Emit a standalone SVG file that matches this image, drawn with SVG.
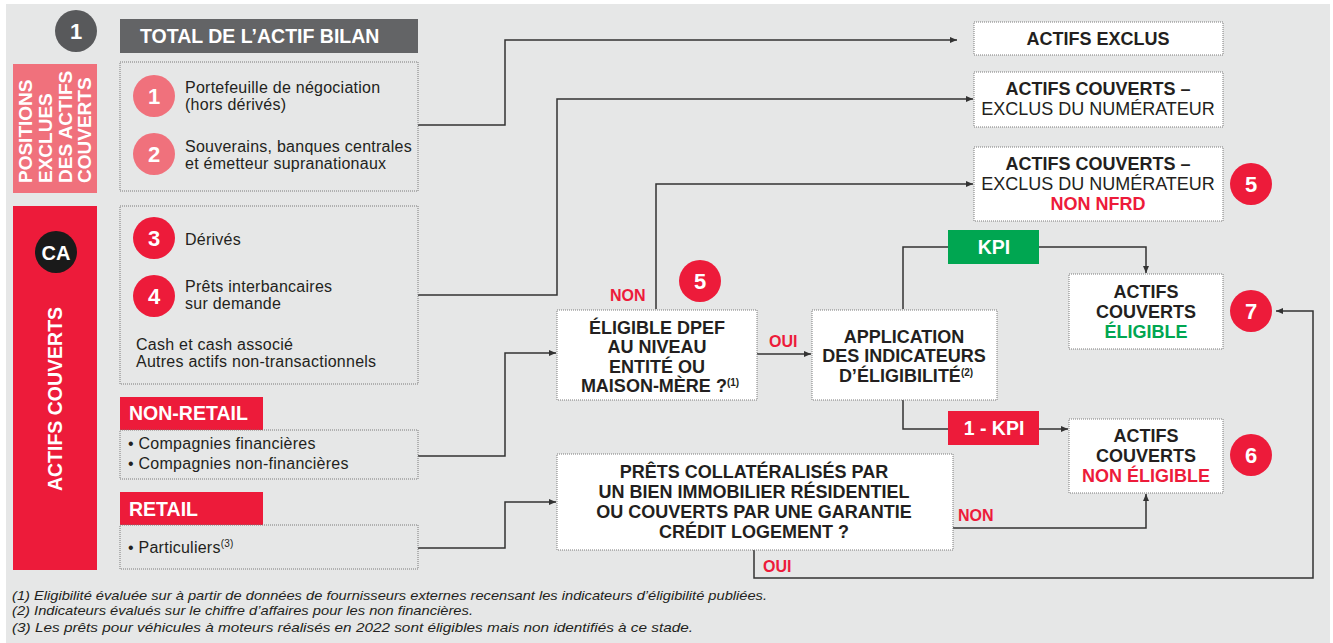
<svg xmlns="http://www.w3.org/2000/svg" width="1333" height="643" viewBox="0 0 1333 643">
<defs>
<style>
text{font-family:"Liberation Sans",Arial,sans-serif;fill:#231f20}
.b{font-weight:bold}
.w{fill:#ffffff}
.r{fill:#ed1b3a}
.g{fill:#00a651}
.bx{font-size:18px;font-weight:bold;text-anchor:middle}
.bxr{font-size:18px;text-anchor:middle}
.lt{font-size:16px;letter-spacing:0.25px}
.num{font-size:22px;font-weight:bold;fill:#ffffff;text-anchor:middle}
.lbl{font-size:16px;font-weight:bold;fill:#ed1b3a}
.hd{font-size:19.5px;font-weight:bold;fill:#ffffff}
.fn{font-size:13px;font-style:italic}
.dot{fill:none;stroke:#7a7a7a;stroke-width:1;stroke-dasharray:1 1}
.wdot{fill:#ffffff;stroke:#7a7a7a;stroke-width:1;stroke-dasharray:1 1}
.ln{fill:none;stroke:#333333;stroke-width:1.5}
.ca{fill:#ed1b3a}
.cp{fill:#f0717c}
</style>
<marker id="ah" markerWidth="8" markerHeight="8" refX="7" refY="4" orient="auto" markerUnits="userSpaceOnUse">
<path d="M0,1 L7,4 L0,7 Z" fill="#333333"/>
</marker>
</defs>
<rect x="0" y="0" width="1333" height="643" fill="#ffffff"/>
<rect x="6" y="4" width="1324" height="639" fill="#e6e7e7"/>

<g id="connectors">
<polyline class="ln" points="418,125 505,125 505,40 957,40" marker-end="url(#ah)"/>
<polyline class="ln" points="418,295 557,295 557,99 973,99" marker-end="url(#ah)"/>
<polyline class="ln" points="418,456 505,456 505,353 556,353" marker-end="url(#ah)"/>
<polyline class="ln" points="418,548 505,548 505,502 556,502" marker-end="url(#ah)"/>
<polyline class="ln" points="656,309 656,184 973,184" marker-end="url(#ah)"/>
<polyline class="ln" points="757,354 811,354" marker-end="url(#ah)"/>
<polyline class="ln" points="903,309 903,247 948,247"/>
<polyline class="ln" points="1039,247 1146,247 1146,273" marker-end="url(#ah)"/>
<polyline class="ln" points="903,399 903,429 948,429"/>
<polyline class="ln" points="1039,429 1068,429" marker-end="url(#ah)"/>
<polyline class="ln" points="953,528 1146,528 1146,494" marker-end="url(#ah)"/>
<polyline class="ln" points="754,550 754,578 1313,578 1313,311 1276,311" marker-end="url(#ah)"/>
<text class="lbl" x="610" y="301">NON</text>
<text class="lbl" x="769" y="347">OUI</text>
<text class="lbl" x="958" y="521">NON</text>
<text class="lbl" x="763" y="572">OUI</text>
</g>

<g id="total">
<circle cx="76" cy="31" r="21" fill="#58595b"/>
<text class="num" x="76" y="39">1</text>
<rect x="120" y="19" width="298" height="34" fill="#636466"/>
<text class="hd" x="140" y="43">TOTAL DE L’ACTIF BILAN</text>
</g>

<g id="positions-exclues">
<rect x="13" y="64" width="84" height="129" class="cp"/>
<text class="b w" font-size="19" transform="translate(32,183) rotate(-90)">POSITIONS</text>
<text class="b w" font-size="19" transform="translate(52,183) rotate(-90)">EXCLUES</text>
<text class="b w" font-size="19" transform="translate(72,183) rotate(-90)">DES ACTIFS</text>
<text class="b w" font-size="19" transform="translate(91,183) rotate(-90)">COUVERTS</text>
</g>

<g id="box-exclues">
<rect x="120" y="62" width="298" height="129" class="dot"/>
<circle cx="154" cy="96" r="21" class="cp"/>
<text class="num" x="154" y="104">1</text>
<text class="lt" x="185" y="93">Portefeuille de négociation</text>
<text class="lt" x="185" y="110">(hors dérivés)</text>
<circle cx="154" cy="154" r="21" class="cp"/>
<text class="num" x="154" y="162">2</text>
<text class="lt" x="185" y="152">Souverains, banques centrales</text>
<text class="lt" x="185" y="169">et émetteur supranationaux</text>
</g>

<g id="actifs-couverts">
<rect x="13" y="206" width="84" height="364" class="ca"/>
<circle cx="56" cy="252" r="21" fill="#1a1a1a"/>
<text x="56" y="260" font-size="20" class="b w" text-anchor="middle">CA</text>
<text class="b w" font-size="19.5" text-anchor="middle" transform="translate(62,399) rotate(-90)">ACTIFS COUVERTS</text>
</g>

<g id="box-couverts">
<rect x="120" y="206" width="298" height="178" class="dot"/>
<circle cx="154" cy="238" r="21" class="ca"/>
<text class="num" x="154" y="246">3</text>
<text class="lt" x="185" y="245">Dérivés</text>
<circle cx="154" cy="296" r="21" class="ca"/>
<text class="num" x="154" y="304">4</text>
<text class="lt" x="185" y="292">Prêts interbancaires</text>
<text class="lt" x="185" y="309">sur demande</text>
<text class="lt" x="136" y="350">Cash et cash associé</text>
<text class="lt" x="136" y="367">Autres actifs non-transactionnels</text>
</g>

<g id="non-retail">
<rect x="120" y="397" width="143" height="33" class="ca"/>
<text class="hd" x="129" y="420">NON-RETAIL</text>
<rect x="120" y="430" width="298" height="49" class="dot"/>
<text class="lt" x="128" y="449">• Compagnies financières</text>
<text class="lt" x="128" y="469">• Compagnies non-financières</text>
</g>

<g id="retail">
<rect x="120" y="492" width="143" height="33" class="ca"/>
<text class="hd" x="129" y="516">RETAIL</text>
<rect x="120" y="525" width="298" height="44" class="dot"/>
<text class="lt" x="128" y="553">• Particuliers<tspan font-size="10" dy="-6">(3)</tspan></text>
</g>

<g id="actifs-exclus">
<rect x="974" y="22" width="249" height="33" class="wdot"/>
<text class="bx" x="1098" y="45">ACTIFS EXCLUS</text>
</g>

<g id="exclus-numerateur">
<rect x="974" y="72" width="249" height="55" class="wdot"/>
<text class="bx" x="1098" y="95">ACTIFS COUVERTS –</text>
<text class="bxr" x="1098" y="115">EXCLUS DU NUMÉRATEUR</text>
</g>

<g id="exclus-non-nfrd">
<rect x="974" y="147" width="249" height="74" class="wdot"/>
<text class="bx" x="1098" y="170">ACTIFS COUVERTS –</text>
<text class="bxr" x="1098" y="190">EXCLUS DU NUMÉRATEUR</text>
<text class="bx r" x="1098" y="210">NON NFRD</text>
<circle cx="1251" cy="184" r="21" class="ca"/>
<text class="num" x="1251" y="192">5</text>
</g>

<g id="eligible-dpef">
<rect x="557" y="310" width="200" height="90" class="wdot"/>
<text class="bx" x="657" y="334">ÉLIGIBLE DPEF</text>
<text class="bx" x="657" y="353">AU NIVEAU</text>
<text class="bx" x="657" y="373">ENTITÉ OU</text>
<text class="bx" x="660" y="392">MAISON-MÈRE ?<tspan font-size="10" dy="-6">(1)</tspan></text>
<circle cx="700" cy="281" r="21" class="ca"/>
<text class="num" x="700" y="289">5</text>
</g>

<g id="application">
<rect x="812" y="310" width="185" height="90" class="wdot"/>
<text class="bx" x="904" y="343">APPLICATION</text>
<text class="bx" x="904" y="362">DES INDICATEURS</text>
<text class="bx" x="906" y="382">D’ÉLIGIBILITÉ<tspan font-size="10" dy="-6">(2)</tspan></text>
</g>

<g id="kpi">
<rect x="948" y="230" width="91" height="34" fill="#00a651"/>
<text class="hd" x="994" y="254" text-anchor="middle">KPI</text>
</g>

<g id="one-minus-kpi">
<rect x="948" y="411" width="91" height="34" class="ca"/>
<text class="hd" x="994" y="435" text-anchor="middle">1 - KPI</text>
</g>

<g id="couverts-eligible">
<rect x="1069" y="274" width="154" height="75" class="wdot"/>
<text class="bx" x="1146" y="298">ACTIFS</text>
<text class="bx" x="1146" y="318">COUVERTS</text>
<text class="bx g" x="1146" y="338">ÉLIGIBLE</text>
<circle cx="1251" cy="311" r="21" class="ca"/>
<text class="num" x="1251" y="319">7</text>
</g>

<g id="couverts-non-eligible">
<rect x="1069" y="419" width="154" height="74" class="wdot"/>
<text class="bx" x="1146" y="442">ACTIFS</text>
<text class="bx" x="1146" y="462">COUVERTS</text>
<text class="bx r" x="1146" y="482">NON ÉLIGIBLE</text>
<circle cx="1251" cy="455" r="21" class="ca"/>
<text class="num" x="1251" y="463">6</text>
</g>

<g id="prets-collateralises">
<rect x="557" y="454" width="396" height="96" class="wdot"/>
<text class="bx" x="754" y="478">PRÊTS COLLATÉRALISÉS PAR</text>
<text class="bx" x="754" y="498">UN BIEN IMMOBILIER RÉSIDENTIEL</text>
<text class="bx" x="754" y="518">OU COUVERTS PAR UNE GARANTIE</text>
<text class="bx" x="754" y="538">CRÉDIT LOGEMENT ?</text>
</g>

<g id="footnotes">
<text class="fn" x="12" y="600" textLength="755" lengthAdjust="spacingAndGlyphs">(1) Eligibilité évaluée sur à partir de données de fournisseurs externes recensant les indicateurs d’éligibilité publiées.</text>
<text class="fn" x="12" y="615" textLength="461" lengthAdjust="spacingAndGlyphs">(2) Indicateurs évalués sur le chiffre d’affaires pour les non financières.</text>
<text class="fn" x="12" y="632" textLength="681" lengthAdjust="spacingAndGlyphs">(3) Les prêts pour véhicules à moteurs réalisés en 2022 sont éligibles mais non identifiés à ce stade.</text>
</g>
</svg>
